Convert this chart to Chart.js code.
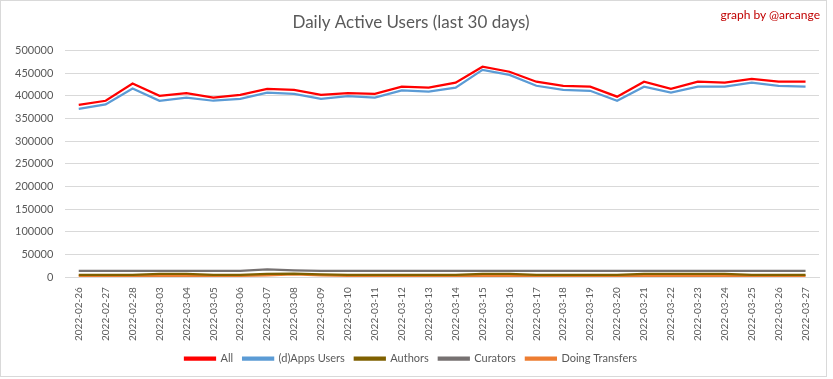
<!DOCTYPE html>
<html>
<head>
<meta charset="utf-8">
<script src="https://cdn.jsdelivr.net/npm/chart.js@4.4.1/dist/chart.umd.min.js"></script>
<style>
  html, body { margin: 0; padding: 0; background: #fff; }
  #wrap { position: relative; width: 833px; height: 379px; }
  #frame { position: absolute; left: 0; top: 0; width: 827px; height: 377px; border: 1px solid #d9d9d9; box-sizing: border-box; pointer-events: none; }
  #credit { position: absolute; right: 13px; top: 7px; font: 12px Lato, "Liberation Sans", sans-serif; color: #c00000; }
</style>
</head>
<body>
<div id="wrap">
  <canvas id="chart" width="833" height="379"></canvas>
  <div id="frame"></div>
  <div id="credit">graph by @arcange</div>
</div>
<script>
// Data
const days = [
  "2022-02-26", "2022-02-27", "2022-02-28", "2022-03-03", "2022-03-04", "2022-03-05", "2022-03-06",
  "2022-03-07", "2022-03-08", "2022-03-09", "2022-03-10", "2022-03-11", "2022-03-12", "2022-03-13",
  "2022-03-14", "2022-03-15", "2022-03-16", "2022-03-17", "2022-03-18", "2022-03-19", "2022-03-20",
  "2022-03-21", "2022-03-22", "2022-03-23", "2022-03-24", "2022-03-25", "2022-03-26", "2022-03-27"
];
const allUsers = [
  380000, 389000, 427000, 400000, 406000, 396000, 402000, 415000, 413000, 402000, 406000, 404000, 420000, 418000,
  429000, 464000, 453000, 431000, 422000, 420000, 398000, 431000, 415000, 431000, 429000, 437000, 431000, 431000
];
const appsUsers = [
  371000, 381000, 416000, 389000, 396000, 389000, 393000, 407000, 404000, 393000, 399000, 396000, 412000, 409000,
  418000, 457000, 446000, 422000, 413000, 411000, 389000, 420000, 407000, 420000, 420000, 429000, 422000, 420000
];
const authors = [
  5000, 5000, 5000, 7000, 7000, 5000, 5000, 7000, 8000, 6000, 5000, 5000, 5000, 5000,
  5000, 7000, 7000, 5000, 5000, 5000, 5000, 7000, 7000, 7000, 7000, 5000, 5000, 5000
];
const curators = [
  14000, 14000, 14000, 14000, 14000, 14000, 14000, 17000, 15000, 14000, 14000, 14000, 14000, 14000,
  14000, 14000, 14000, 14000, 14000, 14000, 14000, 14000, 14000, 14000, 14000, 14000, 14000, 14000
];
const transfers = [
  3000, 3000, 3000, 3000, 3000, 3000, 3000, 4000, 6000, 4000, 3000, 3000, 3000, 3000,
  3000, 3000, 3000, 3000, 3000, 3000, 3000, 3000, 3000, 3000, 3000, 3000, 3000, 3000
];
const yTicks = [0, 50000, 100000, 150000, 200000, 250000, 300000, 350000, 400000, 450000, 500000];

const FONT = "Lato, 'Liberation Sans', sans-serif";
const TEXT = "#595959";

function series(label, data, color, width) {
  return {
    label, data,
    borderColor: color,
    backgroundColor: color,
    borderWidth: width,
    pointRadius: 0,
    tension: 0
  };
}

new Chart(document.getElementById("chart"), {
  type: "line",
  data: {
    labels: days,
    datasets: [
      series("All", allUsers, "#ff0000", 2.25),
      series("(d)Apps Users", appsUsers, "#5b9bd5", 2.25),
      series("Authors", authors, "#7f6000", 2.25),
      series("Curators", curators, "#767171", 2.25),
      series("Doing Transfers", transfers, "#ed7d31", 2.25)
    ]
  },
  options: {
    responsive: false,
    animation: false,
    layout: { padding: { left: 3, right: 14, top: 6, bottom: 5 } },
    plugins: {
      title: {
        display: true,
        text: "Daily Active Users (last 30 days)",
        color: TEXT,
        font: { family: FONT, size: 17, weight: "normal" },
        padding: { top: 6, bottom: 18 }
      },
      legend: {
        position: "bottom",
        labels: {
          color: TEXT,
          font: { family: FONT, size: 11 },
          boxWidth: 30,
          boxHeight: 2,
          padding: 10
        }
      },
      tooltip: { enabled: false }
    },
    scales: {
      x: {
        offset: true,
        grid: { display: false },
        border: { color: "#d9d9d9" },
        ticks: {
          color: TEXT,
          font: { family: FONT, size: 10 },
          maxRotation: 90,
          minRotation: 90,
          autoSkip: false,
          padding: 2
        }
      },
      y: {
        min: 0,
        max: 500000,
        afterBuildTicks: (axis) => { axis.ticks = yTicks.map(v => ({ value: v })); },
        grid: { color: "#d9d9d9", drawTicks: false },
        border: { display: false },
        ticks: {
          color: TEXT,
          font: { family: FONT, size: 11 },
          padding: 12,
          callback: (v) => String(v)
        }
      }
    }
  }
});
</script>
</body>
</html>
